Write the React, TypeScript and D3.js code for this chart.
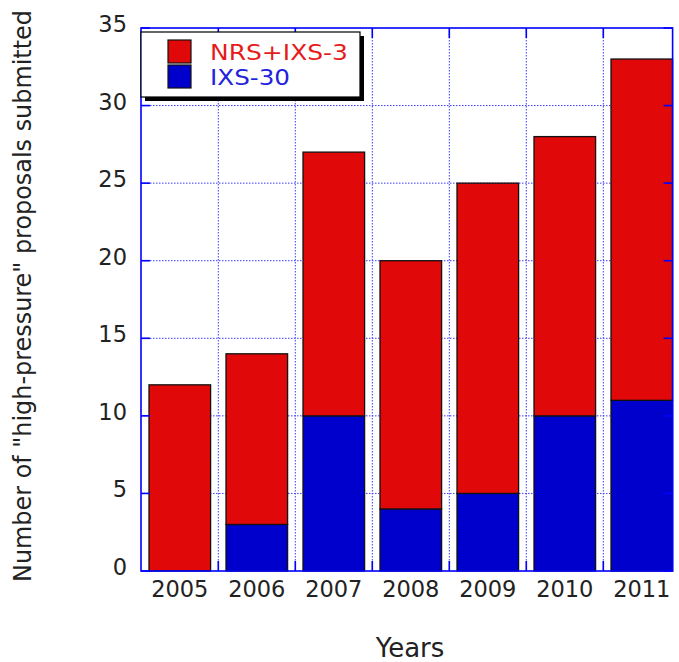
import React, { useEffect, useRef } from "react";
import * as d3 from "d3";

const years = ["2005", "2006", "2007", "2008", "2009", "2010", "2011"];
const ixs30 = [0, 3, 10, 4, 5, 10, 11];
const nrsIxs3 = [12, 11, 17, 16, 20, 18, 22];
const seriesNames = ["IXS-30", "NRS+IXS-3"];
const legendNames = ["NRS+IXS-3", "IXS-30"];
const yTicks = [0, 5, 10, 15, 20, 25, 30, 35];

const RED = "#e00808";
const BLUE = "#0000cc";
const FONT = "'DejaVu Sans', sans-serif";

const App = () => {
  const ref = useRef<SVGSVGElement>(null);

  useEffect(() => {
    draw();
  }, []);

  const draw = () => {
    const svg = d3.select(ref.current);
    svg.selectAll("*").remove();

    const left = 141;
    const right = 672.6;
    const top = 28;
    const bottom = 571;

    const x = d3
      .scaleBand<string>()
      .domain(years)
      .range([149, right])
      .paddingInner(0.2)
      .paddingOuter(0);

    const y = d3.scaleLinear().domain([0, 35]).range([bottom, top]);

    const gap = x.step() - x.bandwidth();
    const gridX = years.slice(1).map((yr) => (x(yr) as number) - gap / 2);

    // dotted grid
    const grid = svg.append("g").attr("stroke", "#3b3bff").attr("stroke-width", 1).attr("stroke-dasharray", "1.5,1.5");
    grid
      .selectAll("line.h")
      .data(yTicks.slice(1, -1))
      .join("line")
      .attr("x1", left)
      .attr("x2", right)
      .attr("y1", (d) => y(d))
      .attr("y2", (d) => y(d));
    grid
      .selectAll("line.v")
      .data(gridX)
      .join("line")
      .attr("x1", (d) => d)
      .attr("x2", (d) => d)
      .attr("y1", top)
      .attr("y2", bottom);

    // stacked bars
    const table = years.map((yr, i) => ({ year: yr, "IXS-30": ixs30[i], "NRS+IXS-3": nrsIxs3[i] }));
    const stacked = d3.stack<any>().keys(seriesNames)(table);
    const color = d3.scaleOrdinal<string>().domain(seriesNames).range([BLUE, RED]);

    stacked.forEach((s) => {
      svg
        .append("g")
        .selectAll("rect")
        .data(s.filter((d) => d[1] - d[0] > 0))
        .join("rect")
        .attr("x", (d) => x(d.data.year) as number)
        .attr("width", x.bandwidth())
        .attr("y", (d) => y(d[1]))
        .attr("height", (d) => y(d[0]) - y(d[1]))
        .attr("fill", color(s.key))
        .attr("stroke", "#111")
        .attr("stroke-width", 1.3);
    });

    // frame and ticks
    const axis = svg.append("g").attr("stroke", "#0000ff").attr("stroke-width", 1.6);
    axis
      .append("rect")
      .attr("x", left)
      .attr("y", top)
      .attr("width", right - left)
      .attr("height", bottom - top)
      .attr("fill", "none");
    yTicks.forEach((t) => {
      axis.append("line").attr("x1", left).attr("x2", left + 9).attr("y1", y(t)).attr("y2", y(t));
      axis.append("line").attr("x1", right).attr("x2", right - 9).attr("y1", y(t)).attr("y2", y(t));
    });
    gridX.forEach((gx) => {
      axis.append("line").attr("x1", gx).attr("x2", gx).attr("y1", top).attr("y2", top + 10);
      axis.append("line").attr("x1", gx).attr("x2", gx).attr("y1", bottom).attr("y2", bottom - 10);
    });

    // tick labels
    svg
      .append("g")
      .selectAll("text")
      .data(yTicks)
      .join("text")
      .attr("x", 127)
      .attr("y", (d) => y(d) + 4)
      .attr("text-anchor", "end")
      .attr("font-family", FONT)
      .attr("font-size", 22.5)
      .attr("fill", "#222")
      .text((d) => d);

    svg
      .append("g")
      .selectAll("text")
      .data(years)
      .join("text")
      .attr("x", (d) => (x(d) as number) + x.bandwidth() / 2)
      .attr("y", 597)
      .attr("text-anchor", "middle")
      .attr("font-family", FONT)
      .attr("font-size", 22.5)
      .attr("fill", "#222")
      .text((d) => d);

    // axis titles
    svg
      .append("text")
      .attr("x", 410)
      .attr("y", 657)
      .attr("text-anchor", "middle")
      .attr("font-family", FONT)
      .attr("font-size", 26)
      .attr("fill", "#222")
      .text("Years");

    svg
      .append("text")
      .attr("transform", "translate(31,296) rotate(-90)")
      .attr("text-anchor", "middle")
      .attr("font-family", FONT)
      .attr("font-size", 24)
      .attr("fill", "#222")
      .attr("textLength", 572)
      .attr("lengthAdjust", "spacingAndGlyphs")
      .text('Number of "high-pressure" proposals submitted');

    // legend
    const lg = svg.append("g");
    lg.append("rect").attr("x", 145).attr("y", 36).attr("width", 219).attr("height", 65).attr("fill", "#000");
    lg.append("rect")
      .attr("x", 141)
      .attr("y", 32)
      .attr("width", 219)
      .attr("height", 65)
      .attr("fill", "#fff")
      .attr("stroke", "#000")
      .attr("stroke-width", 1.2);
    const lcolor = d3.scaleOrdinal<string>().domain(legendNames).range([RED, BLUE]);
    const lwidth = [138, 80];
    legendNames.forEach((name, i) => {
      lg.append("rect")
        .attr("x", 168)
        .attr("y", 40 + i * 25)
        .attr("width", 23)
        .attr("height", 23)
        .attr("fill", lcolor(name))
        .attr("stroke", "#111")
        .attr("stroke-width", 1.2);
      lg.append("text")
        .attr("x", 210)
        .attr("y", 60 + i * 25)
        .attr("font-family", FONT)
        .attr("font-size", 21)
        .attr("textLength", lwidth[i])
        .attr("lengthAdjust", "spacingAndGlyphs")
        .attr("fill", name === "IXS-30" ? "#2222dd" : "#e61c1c")
        .text(name);
    });
  };

  return (
    <svg
      ref={ref}
      width={679}
      height={662}
      style={{ position: "absolute", left: 0, top: 0, background: "#fff" }}
    />
  );
};

export default App;
